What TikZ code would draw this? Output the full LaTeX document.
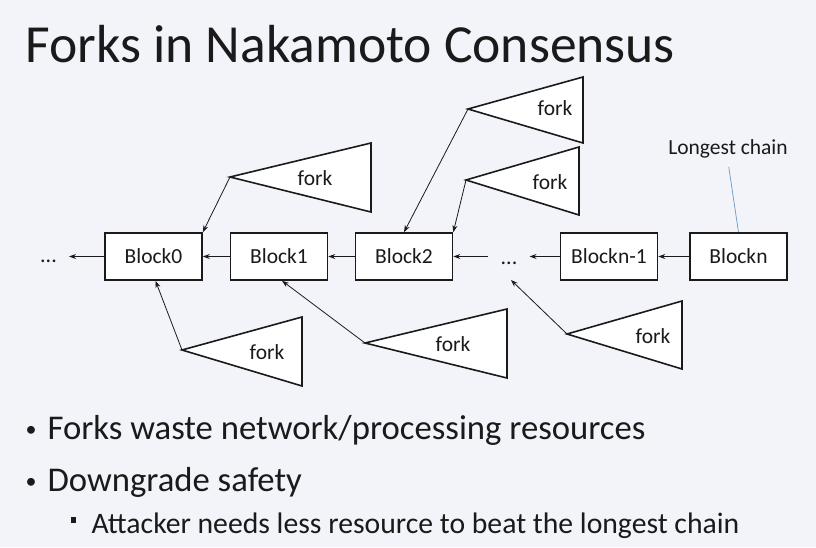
\documentclass[tikz,border=0pt]{standalone}
\usepackage{fontspec}
\setmainfont{Carlito}
\usepackage{xcolor}
\usetikzlibrary{arrows.meta}
\definecolor{slidebg}{HTML}{F2F4FA}
\definecolor{ink}{HTML}{1A1A1A}
\definecolor{callout}{HTML}{6B98C2}

\begin{document}
\begin{tikzpicture}[x=1pt,y=-1pt,color=ink,
  block/.style={draw,fill=white,line width=1.6pt,minimum width=97pt,minimum height=47pt,inner sep=0pt,font=\fontsize{21.5}{24}\selectfont},
  forktri/.style={draw,fill=white,line width=1.6pt,line join=miter},
  lbl/.style={font=\fontsize{21.5}{24}\selectfont},
  dots/.style={font=\fontsize{22}{24}\selectfont,inner xsep=12pt,inner ysep=0pt,anchor=base},
  link/.style={-{Stealth[length=7pt,width=5pt]},line width=0.8pt},
  dot/.style={anchor=base west,font=\fontsize{22}{24}\selectfont},
  bul/.style={anchor=base west,font=\fontsize{34.7}{38}\selectfont},
  subbul/.style={anchor=base west,font=\fontsize{29.7}{32}\selectfont}]
\fill[slidebg](0,0)rectangle(816,547);
\node[anchor=base west,font=\fontsize{53.6}{60}\selectfont](title)at(22,62){Forks in Nakamoto Consensus};
\node[block](b0)at(153.5,256.5){Block0};
\node[block](b1)at(279,256.5){Block1};
\node[block](b2)at(404,256.5){Block2};
\node[block](bn1)at(609,256.5){Blockn-1};
\node[block](bn)at(738.5,256.5){Blockn};
\node[dots](d0)at(48.5,262){...};
\node[dots](d1)at(509,264){...};
\draw[link](b0.west)--(b0.west-|d0.east);
\draw[link](b1.west)--(b0.east);
\draw[link](b2.west)--(b1.east);
\draw[link](d1.west|-b2.east)--(b2.east);
\draw[link](bn1.west)--(bn1.west-|d1.east);
\draw[link](bn.west)--(bn1.east);
\node[lbl](lc)at(728,149){Longest chain};
\draw[callout,line width=0.7pt,shorten <=5pt](lc.south)--(bn.north);
\draw[forktri](230,177)coordinate(fa)--(371,143)--(371,212)--cycle;
\node[lbl](fal)at(315,178){fork};
\draw[forktri](468,109)coordinate(fb)--(583,77)--(583,143)--cycle;
\node[lbl](fbl)at(555,108){fork};
\draw[forktri](466,180)coordinate(fc)--(579,147)--(579,215)--cycle;
\node[lbl](fcl)at(550,182){fork};
\draw[forktri](182,350)coordinate(fd)--(302,317)--(302,386)--cycle;
\node[lbl](fdl)at(267,352){fork};
\draw[forktri](365,343)coordinate(fe)--(507,309)--(507,378)--cycle;
\node[lbl](fel)at(453,344){fork};
\draw[forktri](567,334)coordinate(ff)--(682,301)--(682,369)--cycle;
\node[lbl](ffl)at(653,336){fork};
\coordinate(dlink)at(511,280);
\draw[link](fa)--(b0.north east);
\draw[link](fb)--(b2.north);
\draw[link](fc)--(b2.north east);
\draw[link](fd)--([xshift=2pt]b0.south);
\draw[link](fe)--([xshift=3pt]b1.south);
\draw[link](ff)--(dlink);
\node[dot](k1)at(22,436.6){•};
\node[bul](t1)at(44,439){Forks waste network/processing resources};
\node[dot](k2)at(22,488.6){•};
\node[bul](t2)at(44,491){Downgrade safety};
\node[fill=ink,minimum width=5.5pt,minimum height=6.5pt,inner sep=0pt](k3)at(73.5,520){};
\node[subbul](t3)at(88,533){Attacker needs less resource to beat the longest chain};
\end{tikzpicture}
\end{document}
